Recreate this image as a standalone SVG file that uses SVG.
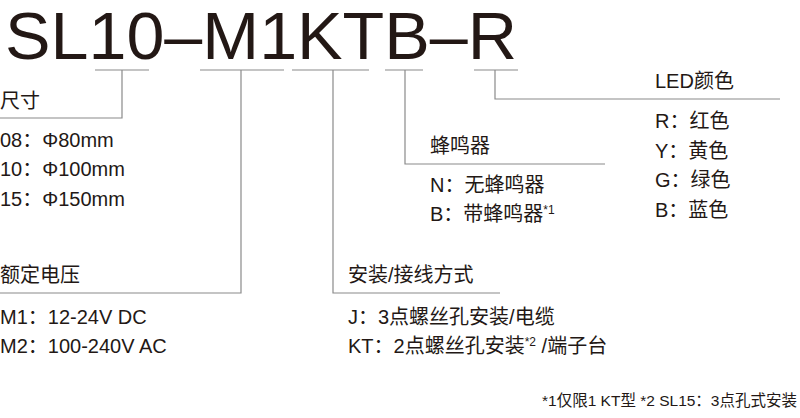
<svg xmlns="http://www.w3.org/2000/svg" width="800" height="418" viewBox="0 0 800 418">
<style>
text{font-family:"Liberation Sans","Noto Sans CJK SC",sans-serif;fill:#231815}
.t{font-size:20px}
.f{font-size:15.5px}
.c line,.c polyline{stroke:#8a8a8a;stroke-width:1.2;fill:none}
</style>
<rect width="800" height="418" fill="#fff"/>
<g id="title"><text x="5" y="59" font-size="66" textLength="512" lengthAdjust="spacingAndGlyphs">SL10–M1KTB–R</text></g>
<g class="c" id="connectors">
<line x1="95" y1="70" x2="149" y2="70"/>
<line x1="200" y1="70" x2="284" y2="70"/>
<line x1="292" y1="70" x2="369" y2="70"/>
<line x1="385" y1="70" x2="423" y2="70"/>
<line x1="474" y1="70" x2="518" y2="70"/>
<polyline points="122,70 122,118 0,118"/>
<polyline points="241,70 241,293 0,293"/>
<polyline points="333,70 333,293 500,293"/>
<polyline points="405,70 405,164 605,164"/>
<polyline points="495,70 495,99 780,99"/>
</g>
<g id="size" class="t">
<text x="0" y="108">尺寸</text>
<text x="0" y="147">08：Φ80mm</text>
<text x="0" y="176">10：Φ100mm</text>
<text x="0" y="206">15：Φ150mm</text>
</g>
<g id="voltage" class="t">
<text x="0" y="282">额定电压</text>
<text x="0" y="324">M1：12-24V DC</text>
<text x="0" y="353">M2：100-240V AC</text>
</g>
<g id="mount" class="t">
<text x="348" y="282">安装/接线方式</text>
<text x="348" y="324">J：3点螺丝孔安装/电缆</text>
<text x="348" y="353">KT：2点螺丝孔安装<tspan font-size="12" dy="-7">*2</tspan><tspan dy="7"> /端子台</tspan></text>
</g>
<g id="buzzer" class="t">
<text x="430" y="153">蜂鸣器</text>
<text x="430" y="192">N：无蜂鸣器</text>
<text x="430" y="221">B：带蜂鸣器<tspan font-size="12" dy="-7">*1</tspan></text>
</g>
<g id="led" class="t">
<text x="655" y="88">LED颜色</text>
<text x="655" y="128">R：红色</text>
<text x="655" y="158">Y：黄色</text>
<text x="655" y="187">G：绿色</text>
<text x="655" y="217">B：蓝色</text>
</g>
<g id="note"><text class="f" x="797" y="406" text-anchor="end">*1仅限1 KT型  *2 SL15：3点孔式安装</text></g>
</svg>
